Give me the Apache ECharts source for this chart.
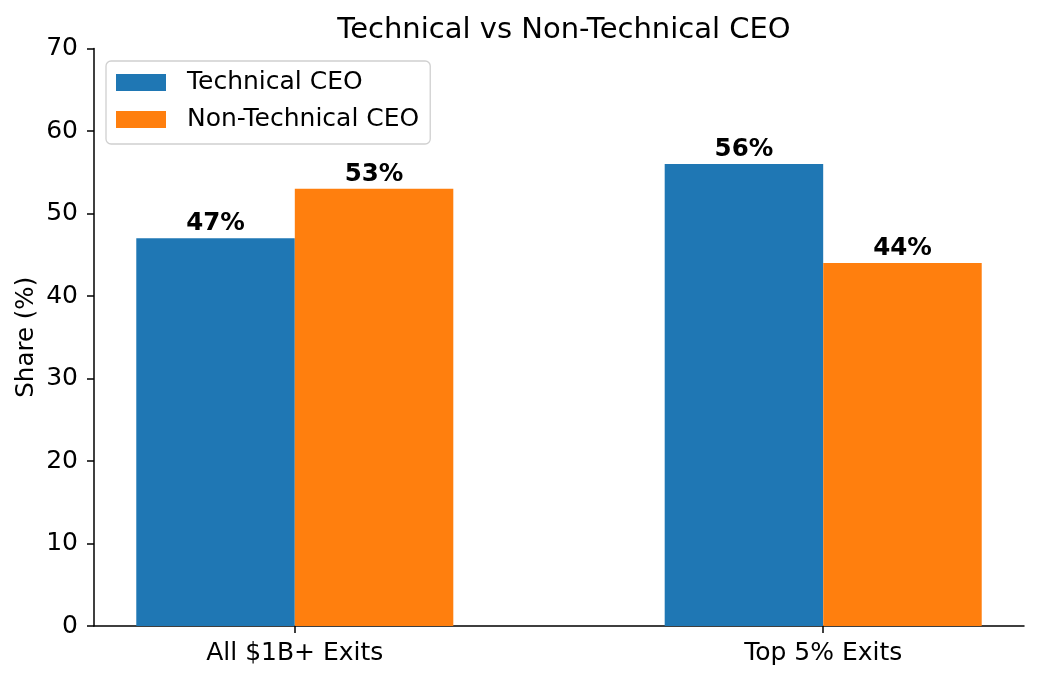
<!DOCTYPE html>
<html>
<head>
<meta charset="utf-8">
<script src="https://cdn.jsdelivr.net/npm/echarts@6/dist/echarts.min.js"></script>
<style>html,body{margin:0;padding:0;background:#fff;}#c{width:1038px;height:680px;}</style>
</head>
<body>
<div id="c"></div>
<script>
const categories = ['All $1B+ Exits', 'Top 5% Exits'];
const seriesNames = ['Technical CEO', 'Non-Technical CEO'];
const technical = [47, 56];
const nonTechnical = [53, 44];
const yTicks = [0, 10, 20, 30, 40, 50, 60, 70];

const barW = 0.3;
const FONT = 'DejaVu Sans';
const chart = echarts.init(document.getElementById('c'));

function pts(vals, side) {
  return vals.map((v, i) => [i + side * barW / 2, v]);
}

chart.setOption({
  animation: false,
  textStyle: { fontFamily: FONT },
  title: {
    text: 'Technical vs Non-Technical CEO',
    left: 559, top: 11, textAlign: 'center',
    textStyle: { fontFamily: FONT, fontSize: 29, fontWeight: 'normal', color: '#000' }
  },
  legend: {
    left: 106, top: 61,
    orient: 'vertical',
    itemWidth: 50, itemHeight: 17, itemGap: 12,
    padding: [9, 11, 12, 10],
    borderColor: '#d0d0d0', borderWidth: 1.3, borderRadius: 5,
    backgroundColor: 'rgba(255,255,255,0.8)',
    icon: 'rect',
    textStyle: { fontFamily: FONT, fontSize: 25, color: '#000', padding: [0, 0, 0, 16] },
    data: seriesNames
  },
  grid: { left: 94, right: 14, top: 48.5, bottom: 54 },
  xAxis: {
    type: 'value', min: -0.38, max: 1.38,
    splitLine: { show: false },
    axisLine: { show: true, onZero: false, lineStyle: { color: '#000', width: 1.5 } },
    axisTick: { show: true, length: 7, inside: false, lineStyle: { color: '#000', width: 1.5 }, customValues: categories.map((c, i) => i) },
    axisLabel: { fontFamily: FONT, fontSize: 25, color: '#000', margin: 15, customValues: categories.map((c, i) => i), formatter: v => categories[Math.round(v)] }
  },
  yAxis: {
    type: 'value', min: 0, max: 70, interval: 10,
    name: 'Share (%)', nameLocation: 'middle', nameRotate: 90, nameGap: 55, nameMoveOverlap: false,
    nameTextStyle: { fontFamily: FONT, fontSize: 24.5, color: '#000' },
    splitLine: { show: false },
    axisLine: { show: true, onZero: false, lineStyle: { color: '#000', width: 1.5 } },
    axisTick: { show: true, length: 7, lineStyle: { color: '#000', width: 1.5 } },
    axisLabel: { fontFamily: FONT, fontSize: 25, color: '#000', margin: 16, padding: [3, 0, 0, 0] }
  },
  series: [
    {
      name: seriesNames[0], type: 'bar', data: pts(technical, -1),
      barWidth: 158.5, barGap: '-100%',
      itemStyle: { color: '#1f77b4' },
      label: { show: true, position: 'top', distance: 2, formatter: p => p.value[1] + '%', fontFamily: FONT, fontSize: 24.5, fontWeight: 'bold', color: '#000' }
    },
    {
      name: seriesNames[1], type: 'bar', data: pts(nonTechnical, 1),
      barWidth: 158.5, barGap: '-100%',
      itemStyle: { color: '#ff7f0e' },
      label: { show: true, position: 'top', distance: 2, formatter: p => p.value[1] + '%', fontFamily: FONT, fontSize: 24.5, fontWeight: 'bold', color: '#000' }
    }
  ]
});
</script>
</body>
</html>
